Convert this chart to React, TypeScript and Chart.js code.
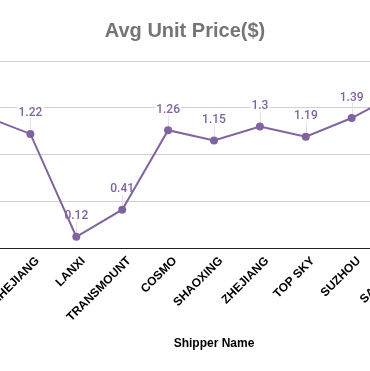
import React, { useEffect, useRef } from 'react';
import { Chart, registerables } from 'chart.js';

Chart.register(...registerables);

// Data (the first and last categories lie outside the visible crop)
const shippers = ['', 'ZHEJIANG', 'LANXI', 'TRANSMOUNT', 'COSMO', 'SHAOXING', 'ZHEJIANG', 'TOP SKY', 'SUZHOU', 'SANHUAN', ''];
const avgUnitPrice: (number | null)[] = [1.41, 1.22, 0.12, 0.41, 1.26, 1.15, 1.3, 1.19, 1.39, 1.65, null];
const yTicks = [0, 0.5, 1, 1.5, 2];

const TITLE = 'Avg Unit Price($)';
const X_TITLE = 'Shipper Name';

const CANVAS_W = 614;
const CANVAS_H = 371;
const CANVAS_LEFT = -150;

const PURPLE = '#8064A2';
const SANS = '"Liberation Sans", Arial, sans-serif';

const pointLabels = {
  id: 'pointLabels',
  beforeDatasetsDraw(chart: any) {
    const ctx = chart.ctx;
    const meta = chart.getDatasetMeta(0);
    const data = chart.data.datasets[0].data as (number | null)[];
    ctx.save();
    ctx.font = '500 12px Roboto';
    ctx.textAlign = 'center';
    ctx.textBaseline = 'alphabetic';
    meta.data.forEach((pt: any, i: number) => {
      const v = data[i];
      if (v == null) return;
      const { x, y } = pt.getProps(['x', 'y'], true);
      const text = String(v);
      const w = ctx.measureText(text).width;
      // leader line
      ctx.strokeStyle = '#e2e2e2';
      ctx.lineWidth = 1;
      ctx.beginPath();
      ctx.moveTo(Math.round(x) + 0.5, y - 4);
      ctx.lineTo(Math.round(x) + 0.5, y - 15);
      ctx.stroke();
      // label background
      ctx.fillStyle = '#ffffff';
      ctx.fillRect(x - w / 2 - 1, y - 17.5 - 10, w + 2, 12);
      ctx.fillStyle = PURPLE;
      ctx.fillText(text, x, y - 17.5);
    });
    ctx.restore();
  },
};

export default function App() {
  const ref = useRef<HTMLCanvasElement | null>(null);

  useEffect(() => {
    if (!ref.current) return;
    const chart = new Chart(ref.current, {
      type: 'line',
      data: {
        labels: shippers,
        datasets: [
          {
            data: avgUnitPrice,
            borderColor: PURPLE,
            backgroundColor: PURPLE,
            borderWidth: 2,
            pointRadius: 4,
            pointBorderWidth: 0,
            pointBackgroundColor: PURPLE,
            tension: 0,
            spanGaps: false,
          },
        ],
      },
      options: {
        responsive: false,
        animation: false,
        devicePixelRatio: 1,
        layout: { padding: { top: 19.5, bottom: 20.5, left: 76.5, right: 20.5 } },
        plugins: {
          legend: { display: false },
          tooltip: { enabled: false },
          title: {
            display: true,
            text: TITLE,
            color: '#757575',
            font: { family: SANS, size: 20, weight: 'bold', lineHeight: 1.2 },
            padding: { top: 0, bottom: 17.5 },
          },
        },
        scales: {
          x: {
            offset: false,
            grid: { display: false, drawTicks: false },
            border: { display: true, color: '#222222', width: 1 },
            ticks: {
              autoSkip: false,
              minRotation: 45,
              maxRotation: 45,
              color: '#000000',
              padding: 6,
              labelOffset: 7,
              font: { family: SANS, size: 12, weight: 'bold' },
            },
            title: {
              display: true,
              text: X_TITLE,
              color: '#000000',
              padding: 0,
              font: { family: SANS, size: 12, weight: 'bold', lineHeight: 1.2 },
            },
            afterFit: (s: any) => {
              s.height = 102.5;
            },
          },
          y: {
            min: 0,
            max: 2,
            afterBuildTicks: (s: any) => {
              s.ticks = yTicks.map((v) => ({ value: v }));
            },
            ticks: { color: '#555', font: { family: SANS, size: 12 } },
            grid: { color: '#d0d0d0', drawTicks: false, lineWidth: 1 },
            border: { display: false },
            afterFit: (s: any) => {
              s.width = 58;
            },
          },
        },
      },
      plugins: [pointLabels],
    });
    return () => chart.destroy();
  }, []);

  return (
    <div
      style={{
        position: 'absolute',
        left: 0,
        top: 0,
        width: 370,
        height: 371,
        overflow: 'hidden',
        background: '#ffffff',
      }}
    >
      <canvas
        ref={ref}
        width={CANVAS_W}
        height={CANVAS_H}
        style={{ position: 'absolute', left: CANVAS_LEFT, top: 0, width: CANVAS_W, height: CANVAS_H }}
      />
    </div>
  );
}
